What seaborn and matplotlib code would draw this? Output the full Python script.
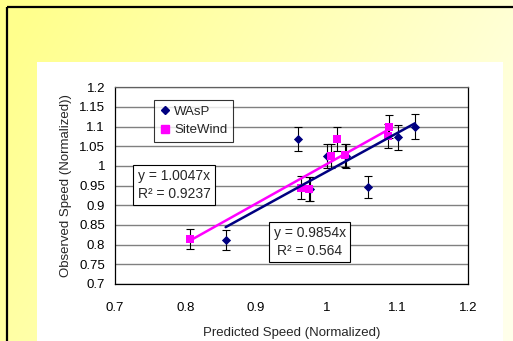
import matplotlib
matplotlib.use("Agg")
import matplotlib.pyplot as plt
import seaborn as sns
import pandas as pd
import numpy as np
from matplotlib.patches import Rectangle

# WAsP series (predicted, observed, error)
wasp_x = [0.857, 0.960, 0.977, 1.001, 1.027, 1.058, 1.101, 1.125]
wasp_y = [0.812, 1.069, 0.941, 1.025, 1.025, 0.946, 1.073, 1.100]
wasp_err = [0.025, 0.031, 0.030, 0.030, 0.030, 0.028, 0.032, 0.032]

# SiteWind series
site_x = [0.806, 0.964, 0.975, 1.006, 1.014, 1.026, 1.087, 1.088]
site_y = [0.814, 0.945, 0.941, 1.025, 1.069, 1.027, 1.076, 1.100]
site_err = [0.025, 0.030, 0.030, 0.030, 0.030, 0.030, 0.030, 0.030]

# trendline fits shown on the chart
wasp_slope, wasp_r2 = 0.9854, "0.564"
site_slope, site_r2 = 1.0047, "0.9237"

x_ticks = [0.7, 0.8, 0.9, 1.0, 1.1, 1.2]
y_ticks = [0.7, 0.75, 0.8, 0.85, 0.9, 0.95, 1.0, 1.05, 1.1, 1.15, 1.2]

NAVY = "#000080"
MAGENTA = "#FF00FF"


def tick_fmt(v):
    s = f"{v:.2f}".rstrip("0").rstrip(".")
    return s


def main():
    sns.set_theme(style="white")
    plt.rcParams['font.family'] = ['Liberation Sans', 'DejaVu Sans']

    fig = plt.figure(figsize=(5.13, 3.41), dpi=100)
    W, H = 513, 341

    # yellow gradient backdrop
    bg = fig.add_axes([0, 0, 1, 1], zorder=-10)
    gx, gy = np.meshgrid(np.linspace(0, 1, 300), np.linspace(0, 1, 200))
    t = np.clip(0.8 * gx + 0.3 * gy - 0.05, 0, 1)
    c0 = np.array([1.0, 1.0, 0.55])
    c1 = np.array([1.0, 1.0, 0.92])
    img = c0[None, None, :] * (1 - t[..., None]) + c1[None, None, :] * t[..., None]
    bg.imshow(img, extent=[0, W, H, 0], aspect="auto")
    bg.set_xlim(0, W)
    bg.set_ylim(H, 0)
    bg.add_patch(Rectangle((6.5, 6.5), W + 10, H + 10, fill=False, ec="black", lw=1.6))
    bg.add_patch(Rectangle((37, 62), 466, H, fc="white", ec="none"))
    bg.axis("off")

    ax = fig.add_axes([114.7 / W, 1 - 284 / H, (468 - 114.7) / W, (284 - 87.3) / H])

    df = pd.concat([
        pd.DataFrame({"pred": wasp_x, "obs": wasp_y, "series": "WAsP"}),
        pd.DataFrame({"pred": site_x, "obs": site_y, "series": "SiteWind"}),
    ])

    for yv in y_ticks:
        ax.axhline(yv, color="#808080", lw=1.0, zorder=0)

    ax.errorbar(wasp_x, wasp_y, yerr=wasp_err, fmt="none", ecolor="black",
                elinewidth=0.8, capsize=2.8, capthick=0.8, zorder=2)
    ax.errorbar(site_x, site_y, yerr=site_err, fmt="none", ecolor="black",
                elinewidth=0.8, capsize=2.8, capthick=0.8, zorder=2)

    sns.scatterplot(data=df[df.series == "WAsP"], x="pred", y="obs",
                    marker="D", color=NAVY, s=22, linewidth=0, ax=ax, zorder=3)
    sns.scatterplot(data=df[df.series == "SiteWind"], x="pred", y="obs",
                    marker="s", color=MAGENTA, s=36, linewidth=0, ax=ax, zorder=3)

    wx = np.array([min(wasp_x), max(wasp_x)])
    sx = np.array([min(site_x), max(site_x)])
    ax.plot(wx, wasp_slope * wx, color=NAVY, lw=1.8, zorder=4)
    ax.plot(sx, site_slope * sx, color=MAGENTA, lw=1.8, zorder=4)

    ax.set_xlim(0.7, 1.2)
    ax.set_ylim(0.7, 1.2)
    ax.set_xticks(x_ticks)
    ax.set_yticks(y_ticks)
    ax.set_xticklabels([tick_fmt(v) for v in x_ticks])
    ax.set_yticklabels([tick_fmt(v) for v in y_ticks])
    ax.tick_params(axis="both", direction="out", length=4, width=0.8,
                   color="black", labelsize=9.5, labelcolor="black")
    ax.tick_params(axis="x", pad=9)
    ax.tick_params(axis="y", pad=3)
    for sp in ax.spines.values():
        sp.set_color("black")
        sp.set_linewidth(0.9)
    ax.spines["top"].set_color("#606060")

    ax.set_xlabel("Predicted Speed (Normalized)", fontsize=9.5, labelpad=9)
    ax.set_ylabel("Observed Speed (Normalized))", fontsize=9.5, labelpad=5)

    handles = [
        plt.Line2D([], [], marker="D", color=NAVY, ls="none", ms=4.2),
        plt.Line2D([], [], marker="s", color=MAGENTA, ls="none", ms=6),
    ]
    leg = ax.legend(handles, ["WAsP", "SiteWind"], loc="upper left",
                    bbox_to_anchor=(0.112, 0.935), borderaxespad=0,
                    fontsize=9.5, frameon=True, fancybox=False,
                    handlelength=0.8, handletextpad=0.3, borderpad=0.4,
                    labelspacing=0.5)
    leg.get_frame().set_edgecolor("black")
    leg.get_frame().set_linewidth(0.8)

    box = dict(boxstyle="square,pad=0.3", fc="white", ec="black", lw=0.8)
    ax.text(0.784, 0.952, f"y = {site_slope:.4f}x\nR² = {site_r2}", fontsize=10,
            ha="center", va="center", bbox=box, zorder=6, linespacing=1.3)
    ax.text(0.976, 0.807, f"y = {wasp_slope:.4f}x\nR² = {wasp_r2}", fontsize=10,
            ha="center", va="center", bbox=box, zorder=6, linespacing=1.3)

    fig.savefig("out.png", dpi=100)
    plt.close(fig)


if __name__ == "__main__":
    main()
